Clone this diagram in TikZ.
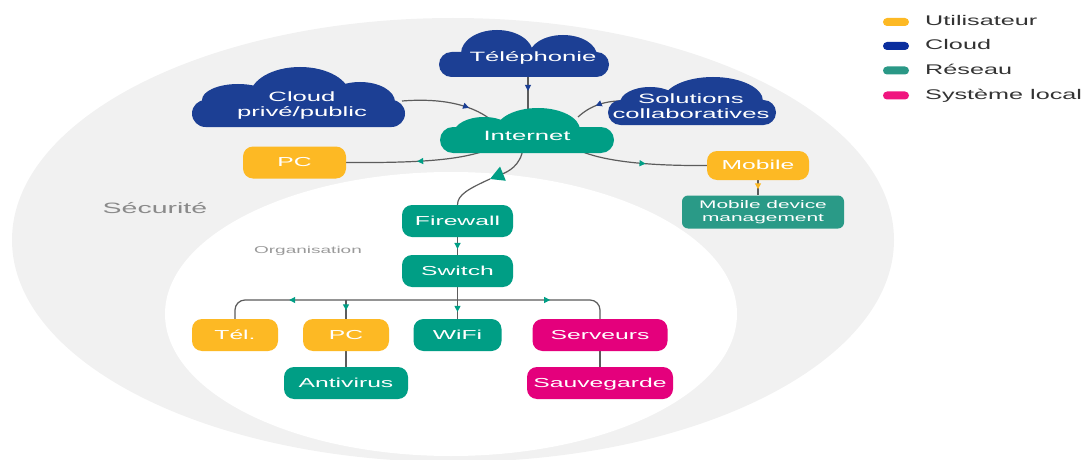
\documentclass[tikz,border=0pt]{standalone}
\usepackage{fontspec}
\setmainfont{Liberation Sans}[FakeStretch=1.9]
\newfontfamily\legfont{Liberation Sans}[FakeStretch=1.8]
\usetikzlibrary{arrows.meta,decorations.markings}
\definecolor{bgray}{HTML}{F1F1F1}
\definecolor{cyel}{HTML}{FDB924}
\definecolor{cblue}{HTML}{1C3F94}
\definecolor{cteal}{HTML}{009E85}
\definecolor{cmdm}{HTML}{2A9A87}
\definecolor{cpink}{HTML}{E4007C}
\definecolor{lblue}{HTML}{0A2E9E}
\definecolor{lteal}{HTML}{2A9886}
\definecolor{lpink}{HTML}{F0167F}
\definecolor{wirec}{HTML}{5C5C5C}
\definecolor{lgtxt}{HTML}{333333}
\definecolor{sectxt}{HTML}{8A8A8A}
\definecolor{orgtxt}{HTML}{9A9A9A}
\pgfdeclarelayer{bglayer}
\pgfdeclarelayer{wirelayer}
\pgfsetlayers{bglayer,wirelayer,main}
\begin{document}
\begin{tikzpicture}[x=1pt,y=-1pt,
  box/.style={rounded corners=10pt, text=white, font=\fontsize{13}{15}\selectfont,
    text height=8.5pt, text depth=0pt, inner sep=0pt, minimum height=32pt},
  ubox/.style={box, fill=cyel},
  rbox/.style={box, fill=cteal},
  sbox/.style={box, fill=cpink},
  ctext/.style={text=white, font=\fontsize{13.5}{15}\selectfont, align=center, inner sep=0pt},
  wire/.style={draw=wirec, line width=1.2pt},
  midarrow/.style 2 args={postaction={decorate}, decoration={markings,
    mark=at position #1 with {\arrow{Triangle[length=6pt,width=6pt,color=#2,fill=#2]}}}},
  pill/.style={rounded corners=4pt, minimum width=26pt, minimum height=8pt, inner sep=0pt},
  lgtext/.style={anchor=base west, text=lgtxt, font=\legfont\fontsize{14}{16}\selectfont, inner sep=0pt}
]
\useasboundingbox (0,0) rectangle (1088,460);

% ---------- background regions ----------
\begin{pgfonlayer}{bglayer}
  \begin{scope}
    \clip (0,0) rectangle (1088,460);
    \fill[bgray] (453,240) ellipse [x radius=441pt, y radius=222pt];
    \fill[white] (451,314) ellipse [x radius=286pt, y radius=142pt];
  \end{scope}
\end{pgfonlayer}

% ---------- clouds ----------
% Telephonie
\fill[cblue] (497,53.5) ellipse [x radius=36pt, y radius=23.5pt];
\fill[cblue] (563,56) ellipse [x radius=34pt, y radius=21pt];
\fill[cblue, rounded corners=12.5pt] (439,52) rectangle (609,77);
% Cloud prive/public
\fill[cblue] (238,100) ellipse [x radius=36pt, y radius=16pt];
\fill[cblue] (300,96) ellipse [x radius=50pt, y radius=29pt];
\fill[cblue] (360,102) ellipse [x radius=35pt, y radius=20pt];
\fill[cblue, rounded corners=13.5pt] (192,100) rectangle (405,127);
% Solutions collaboratives
\fill[cblue] (650,103) ellipse [x radius=30pt, y radius=16pt];
\fill[cblue] (713,101) ellipse [x radius=50pt, y radius=24pt];
\fill[cblue, rounded corners=12.5pt] (608,100) rectangle (776,125);
% Internet
\fill[cteal] (484,133) ellipse [x radius=30pt, y radius=16pt];
\fill[cteal] (538,130) ellipse [x radius=42pt, y radius=22pt];
\fill[cteal, rounded corners=13pt] (440,127) rectangle (614,153);

% ---------- cloud labels ----------
\node[ctext, anchor=base] (tel) at (533,62) {Téléphonie};
\node[ctext] (cp) at (302,106) {Cloud\\privé/public};
\node[ctext] (sol) at (691,106.5) {Solutions\\collaboratives};
\node[ctext, anchor=base] (inet) at (527,140) {Internet};

% ---------- boxes ----------
\node[ubox, minimum width=103pt] (pc1) at (294.5,162.5) {PC};
\node[ubox, minimum width=102pt, minimum height=29pt] (mob) at (758,165.5) {Mobile};
\node[rounded corners=6pt, fill=cmdm, text=white, font=\fontsize{11}{13.5}\selectfont,
  align=center, inner sep=0pt, minimum width=162pt, minimum height=33pt] (mdm) at (763,212)
  {Mobile device\\management};
\node[rbox, minimum width=111pt] (fw) at (457.5,221) {Firewall};
\node[rbox, minimum width=111pt] (sw) at (457.5,271) {Switch};
\node[ubox, minimum width=86pt] (tel2) at (235,335) {Tél.};
\node[ubox, minimum width=86pt] (pc2) at (346,335) {PC};
\node[rbox, minimum width=88pt] (wifi) at (457.5,335) {WiFi};
\node[sbox, minimum width=135pt] (serv) at (600,335) {Serveurs};
\node[rbox, minimum width=124pt] (av) at (346,383) {Antivirus};
\node[sbox, minimum width=146pt] (sauv) at (600,383) {Sauvegarde};

% ---------- region labels ----------
\node[anchor=base, text=sectxt, font=\fontsize{15}{17}\selectfont, inner sep=0pt] (secu) at (155,213) {Sécurité};
\node[anchor=base, text=orgtxt, font=\fontsize{10}{12}\selectfont, inner sep=0pt] (orga) at (308,253) {Organisation};

% ---------- legend ----------
\node[pill, fill=cyel] (lg1) at (896,22) {};
\node[lgtext] (lg1t) at (925,26) {Utilisateur};
\node[pill, fill=lblue] (lg2) at (896,46) {};
\node[lgtext] (lg2t) at (925,50) {Cloud};
\node[pill, fill=lteal] (lg3) at (896,70.5) {};
\node[lgtext] (lg3t) at (925,74.5) {Réseau};
\node[pill, fill=lpink] (lg4) at (896,95.5) {};
\node[lgtext] (lg4t) at (925,99.5) {Système local};

% ---------- anchor coordinates on clouds ----------
\coordinate (telB) at (528,72);
\coordinate (inetT) at (528,115);
\coordinate (cpR) at (402,101);
\coordinate (inetL) at (490,119);
\coordinate (solL) at (627,101);
\coordinate (inetR) at (578,117);
\coordinate (inetBL) at (487,150);
\coordinate (inetBR) at (578,150);
\coordinate (inetB) at (523,148);
\coordinate (fwarrow) at (490,179);
\coordinate (bus) at (457.5,300);

% ---------- connectors ----------
\begin{pgfonlayer}{wirelayer}
  \draw[wire, midarrow={0.44}{cblue}] (telB) -- (inetT);
  \draw[wire, midarrow={0.74}{cblue}] (cpR) .. controls (440,98) and (470,104) .. (inetL);
  \draw[wire, midarrow={0.6}{cblue}] (solL) .. controls (605,100) and (590,106) .. (inetR);
  \draw[wire, midarrow={0.5}{cteal}] (inetBL) .. controls (460,160) and (420,163) .. (pc1.east);
  \draw[wire, midarrow={0.53}{cteal}] (inetBR) .. controls (600,160) and (640,166) .. (mob.west);
  \draw[wire, -{Triangle[length=14pt,width=15pt,color=cteal,fill=cteal]}]
    (inetB) .. controls (521,166) and (507,172) .. (fwarrow);
  \draw[wire] (fwarrow) .. controls (468,189) and (457.5,195) .. (fw.north);
  \draw[wire, midarrow={0.6}{cyel}] (mob.south) -- (mob.south |- mdm.north);
  \draw[wire, midarrow={0.67}{cteal}] (fw.south) -- (sw.north);
  \draw[wire, midarrow={0.78}{cteal}] (sw.south) -- (wifi.north);
  \draw[wire, rounded corners=10pt, midarrow={0.71}{cteal}] (bus) -| (tel2.north);
  \draw[wire, rounded corners=10pt, midarrow={0.59}{cteal}] (bus) -| (serv.north);
  \draw[wire, midarrow={0.55}{cteal}] (pc2.north |- bus) -- (pc2.north);
  \draw[wire] (pc2.south) -- (av.north);
  \draw[wire] (serv.south) -- (sauv.north);
\end{pgfonlayer}
\end{tikzpicture}
\end{document}
